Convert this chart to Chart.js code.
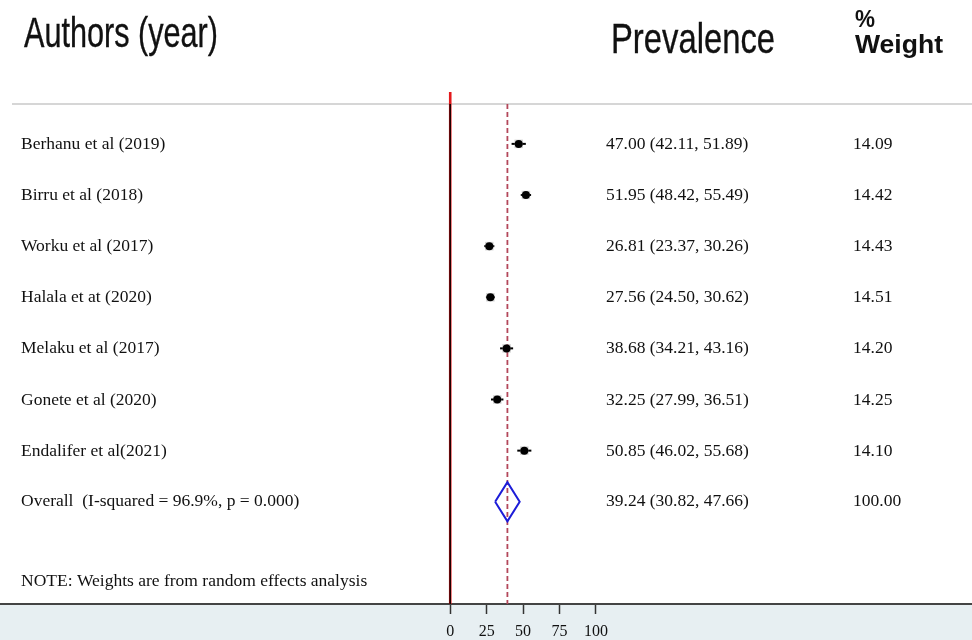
<!DOCTYPE html>
<html>
<head>
<meta charset="utf-8">
<script src="https://cdn.jsdelivr.net/npm/chart.js@4/dist/chart.umd.min.js"></script>
<style>
html,body{margin:0;padding:0;background:#fff;}
#wrap{width:972px;height:640px;position:relative;}
</style>
</head>
<body>
<div id="wrap"><canvas id="c"></canvas></div>
<script>
// ---- data ----
const studies = ["Berhanu et al (2019)","Birru et al (2018)","Worku et al (2017)","Halala et at (2020)","Melaku et al (2017)","Gonete et al (2020)","Endalifer et al(2021)"];
const prevalence = [47.00, 51.95, 26.81, 27.56, 38.68, 32.25, 50.85];
const lower = [42.11, 48.42, 23.37, 24.50, 34.21, 27.99, 46.02];
const upper = [51.89, 55.49, 30.26, 30.62, 43.16, 36.51, 55.68];
const weights = [14.09, 14.42, 14.43, 14.51, 14.20, 14.25, 14.10];
const pooled = 39.24;
const pooledLower = 30.82;
const pooledUpper = 47.66;
const pooledWeight = 100.00;
const overallLabel = "Overall  (I-squared = 96.9%, p = 0.000)";
const noteLabel = "NOTE: Weights are from random effects analysis";
const xTicks = [0, 25, 50, 75, 100];
const rows = studies.map((s, i) => i + 1);
const overallRow = 8;
const noteRow = 9.55;

// ---- datasets ----
const Y_MIN = 0.22, Y_MAX = 10;
const datasets = [];
datasets.push({label:'null-red', data:[{x:0,y:-0.015},{x:0,y:Y_MAX}], showLine:true, borderColor:'#e3191c', borderWidth:2.6, pointRadius:0, clip:false, order:10});
datasets.push({label:'null-black', data:[{x:0,y:Y_MIN},{x:0,y:Y_MAX}], showLine:true, borderColor:'#1a0000', borderWidth:1, pointRadius:0, order:9});
datasets.push({label:'pooled-line', data:[{x:pooled,y:Y_MIN},{x:pooled,y:Y_MAX}], showLine:true, borderColor:'#b3475a', borderWidth:1.8, borderDash:[5,3], pointRadius:0, order:8});
rows.forEach((r, i) => {
  datasets.push({label:'ci'+i, data:[{x:lower[i],y:r},{x:upper[i],y:r}], showLine:true, borderColor:'#000', borderWidth:2, pointRadius:0, order:7});
});
datasets.push({label:'boxes', data:rows.map((r,i)=>({x:prevalence[i],y:r})), pointStyle:'rect', pointRadius:6, backgroundColor:'rgba(165,165,165,0.5)', borderWidth:0, order:6});
datasets.push({label:'points', data:rows.map((r,i)=>({x:prevalence[i],y:r})), pointStyle:'circle', pointRadius:4, backgroundColor:'#000', borderColor:'#000', borderWidth:0, order:5});
const dh = 0.384;
datasets.push({label:'diamond', data:[{x:pooledLower,y:overallRow},{x:pooled,y:overallRow-dh},{x:pooledUpper,y:overallRow},{x:pooled,y:overallRow+dh},{x:pooledLower,y:overallRow}], showLine:true, borderColor:'#1c1cd8', borderWidth:2, pointRadius:0, fill:false, tension:0, order:4});

function fitText(ctx, text, x, baseline, font, width, stroke){
  ctx.save();
  ctx.font = font;
  const w = ctx.measureText(text).width;
  ctx.translate(x, baseline);
  ctx.scale(width / w, 1);
  ctx.textBaseline = 'alphabetic';
  ctx.textAlign = 'left';
  ctx.fillText(text, 0, 0);
  if (stroke) { ctx.strokeStyle = ctx.fillStyle; ctx.lineWidth = stroke; ctx.strokeText(text, 0, 0); }
  ctx.restore();
}

const forestPlugin = {
  id:'forest',
  beforeDraw(chart){
    const {ctx, chartArea} = chart;
    ctx.save();
    ctx.fillStyle = '#fff';
    ctx.fillRect(0,0,chart.width,chart.height);
    ctx.fillStyle = '#e7eff2';
    ctx.fillRect(0, chartArea.bottom, chart.width, chart.height - chartArea.bottom);
    ctx.strokeStyle = '#c9c9c9';
    ctx.lineWidth = 1.5;
    ctx.beginPath();
    ctx.moveTo(12, chartArea.top);
    ctx.lineTo(chart.width, chartArea.top);
    ctx.stroke();
    ctx.restore();
  },
  afterDraw(chart){
    const {ctx} = chart;
    const ys = chart.scales.y;
    ctx.save();
    ctx.fillStyle = '#111';
    // headers
    fitText(ctx, 'Authors (year)', 24, 47, '42px "Liberation Sans", Arial, sans-serif', 194, 0.35);
    fitText(ctx, 'Prevalence', 611, 53, '43px "Liberation Sans", Arial, sans-serif', 164, 0.35);
    fitText(ctx, '%', 855, 27, 'bold 24px "Liberation Sans", Arial, sans-serif', 20, 0);
    fitText(ctx, 'Weight', 855, 53, 'bold 25px "Liberation Sans", Arial, sans-serif', 88, 0);
    // rows
    ctx.font = '17.5px "Liberation Serif", "Times New Roman", serif';
    ctx.textBaseline = 'middle';
    ctx.textAlign = 'left';
    rows.forEach((r,i)=>{
      const y = ys.getPixelForValue(r) + 0.5;
      ctx.fillText(studies[i], 21, y);
      ctx.fillText(prevalence[i].toFixed(2)+' ('+lower[i].toFixed(2)+', '+upper[i].toFixed(2)+')', 606, y);
      ctx.fillText(weights[i].toFixed(2), 853, y);
    });
    const yo = ys.getPixelForValue(overallRow);
    ctx.fillText(overallLabel, 21, yo);
    ctx.fillText(pooled.toFixed(2)+' ('+pooledLower.toFixed(2)+', '+pooledUpper.toFixed(2)+')', 606, yo);
    ctx.fillText(pooledWeight.toFixed(2), 853, yo);
    ctx.fillText(noteLabel, 21, ys.getPixelForValue(noteRow));
    ctx.restore();
  }
};

new Chart(document.getElementById('c'), {
  type:'scatter',
  data:{datasets},
  options:{
    responsive:true,
    maintainAspectRatio:false,
    animation:false,
    layout:{autoPadding:false, padding:{top:104,left:0,right:0,bottom:0}},
    plugins:{legend:{display:false}, tooltip:{enabled:false}},
    scales:{
      x:{
        type:'linear', min:-309, max:358.1,
        afterBuildTicks(s){ s.ticks = xTicks.map(v=>({value:v})); },
        afterFit(s){ s.height = 36; },
        grid:{display:true, drawOnChartArea:false, drawTicks:true, tickLength:10, tickColor:'#333', tickWidth:1.5},
        border:{display:true, color:'#444', width:2},
        ticks:{autoSkip:false, maxRotation:0, padding:8, color:'#111', font:{family:'"Liberation Serif", "Times New Roman", serif', size:16}}
      },
      y:{type:'linear', reverse:true, min:Y_MIN, max:Y_MAX, display:false}
    }
  },
  plugins:[forestPlugin]
});
</script>
</body>
</html>
